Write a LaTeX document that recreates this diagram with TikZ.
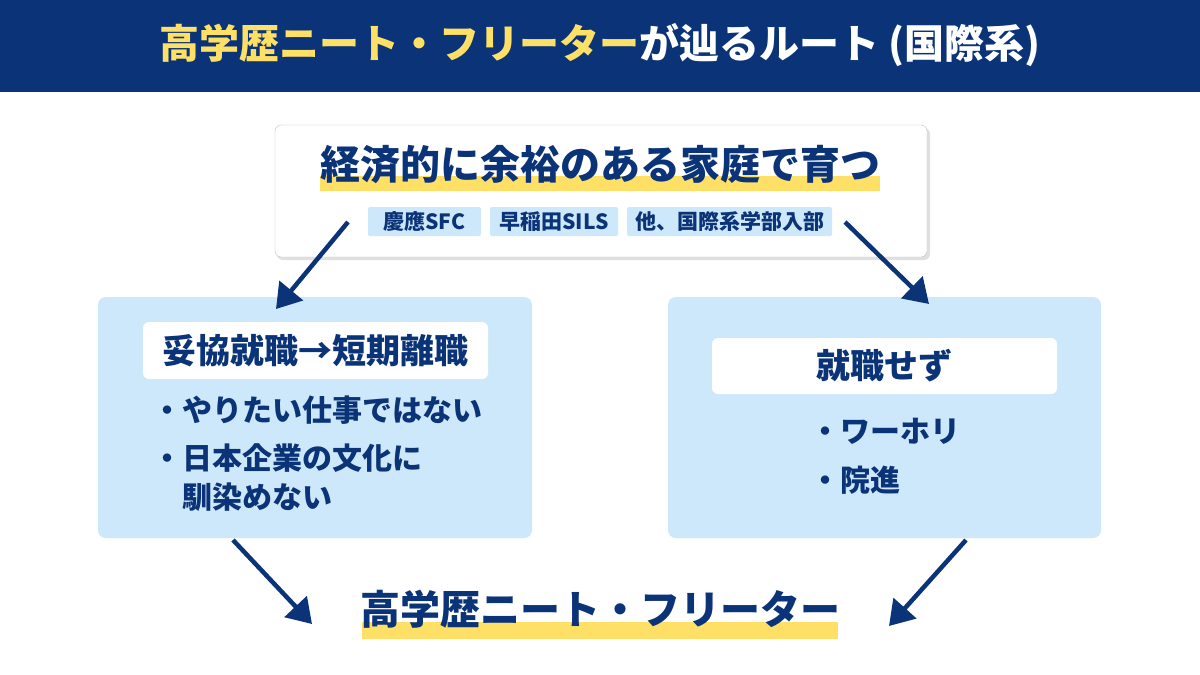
\documentclass[tikz,border=0pt]{standalone}
\usepackage{fontspec}
\setmainfont{Noto Sans CJK JP}
\usetikzlibrary{arrows.meta}
\definecolor{navy}{HTML}{0B3378}
\definecolor{hl}{HTML}{FFE066}
\definecolor{lb}{HTML}{CDE8FA}
\definecolor{tag}{HTML}{CDE8FA}
\begin{document}
\begin{tikzpicture}[x=1pt,y=-1pt,
  txt/.style={text=navy,font=\bfseries\fontsize{#1}{#1}\selectfont,inner sep=0},
  tagn/.style={fill=tag,rounded corners=2pt,text=navy,font=\bfseries\fontsize{21}{21}\selectfont,inner sep=0,minimum height=29pt},
  panel/.style={fill=lb,rounded corners=8pt},
  lab/.style={fill=white,rounded corners=6pt},
  arr/.style={draw=navy,line width=4.5pt,-{Triangle[length=24pt,width=30pt]}}]
\useasboundingbox (0,0) rectangle (1200,675);
\fill[white] (0,0) rectangle (1200,675);
\fill[navy] (0,0) rectangle (1200,92);
\node[inner sep=0,font=\bfseries\fontsize{40}{40}\selectfont] (title) at (600,45) {\textcolor{hl}{高学歴ニート・フリーター}\textcolor{white}{が辿るルート (国際系)}};
% top box
\fill[black!12,rounded corners=6pt] (277,128) rectangle (930,260);
\draw[black!25,fill=white,rounded corners=6pt] (275,125) rectangle (927,257);
\fill[hl] (320,176) rectangle (880,191);
\node[txt=40] (top) at (600,164) {経済的に余裕のある家庭で育つ};
\node[tagn,minimum width=113pt] (t1) at (424.5,221.5) {慶應SFC};
\node[tagn,minimum width=128pt] (t2) at (554,221.5) {早稲田SILS};
\node[tagn,minimum width=205pt] (t3) at (729.5,221.5) {他、国際系学部入部};
% left panel
\fill[panel] (98,297) rectangle (532,538);
\fill[lab] (143,322) rectangle (488,379);
\node[txt=34] (l) at (315.5,351) {妥協就職→短期離職};
\node[txt=30,anchor=west] (l1) at (152,410) {・やりたい仕事ではない};
\node[txt=30,anchor=west] (l2) at (152,458) {・日本企業の文化に};
\node[txt=30,anchor=west] (l3) at (182,497) {馴染めない};
% right panel
\fill[panel] (668,297) rectangle (1101,538);
\fill[lab] (712,338) rectangle (1057,394);
\node[txt=34] (r) at (884.5,366) {就職せず};
\node[txt=30,anchor=west] (r1) at (810,431) {・ワーホリ};
\node[txt=30,anchor=west] (r2) at (810,480) {・院進};
% bottom
\fill[hl] (362,622) rectangle (838,639);
\node[txt=40] (bot) at (600,609) {高学歴ニート・フリーター};
% arrows
\coordinate (a1) at (348,222); \coordinate (b1) at (276,309);
\coordinate (a2) at (845,222); \coordinate (b2) at (929,304);
\coordinate (a3) at (233,540); \coordinate (b3) at (312,624);
\coordinate (a4) at (966,540); \coordinate (b4) at (889,626);
\draw[arr] (a1) -- (b1);
\draw[arr] (a2) -- (b2);
\draw[arr] (a3) -- (b3);
\draw[arr] (a4) -- (b4);
\end{tikzpicture}
\end{document}
